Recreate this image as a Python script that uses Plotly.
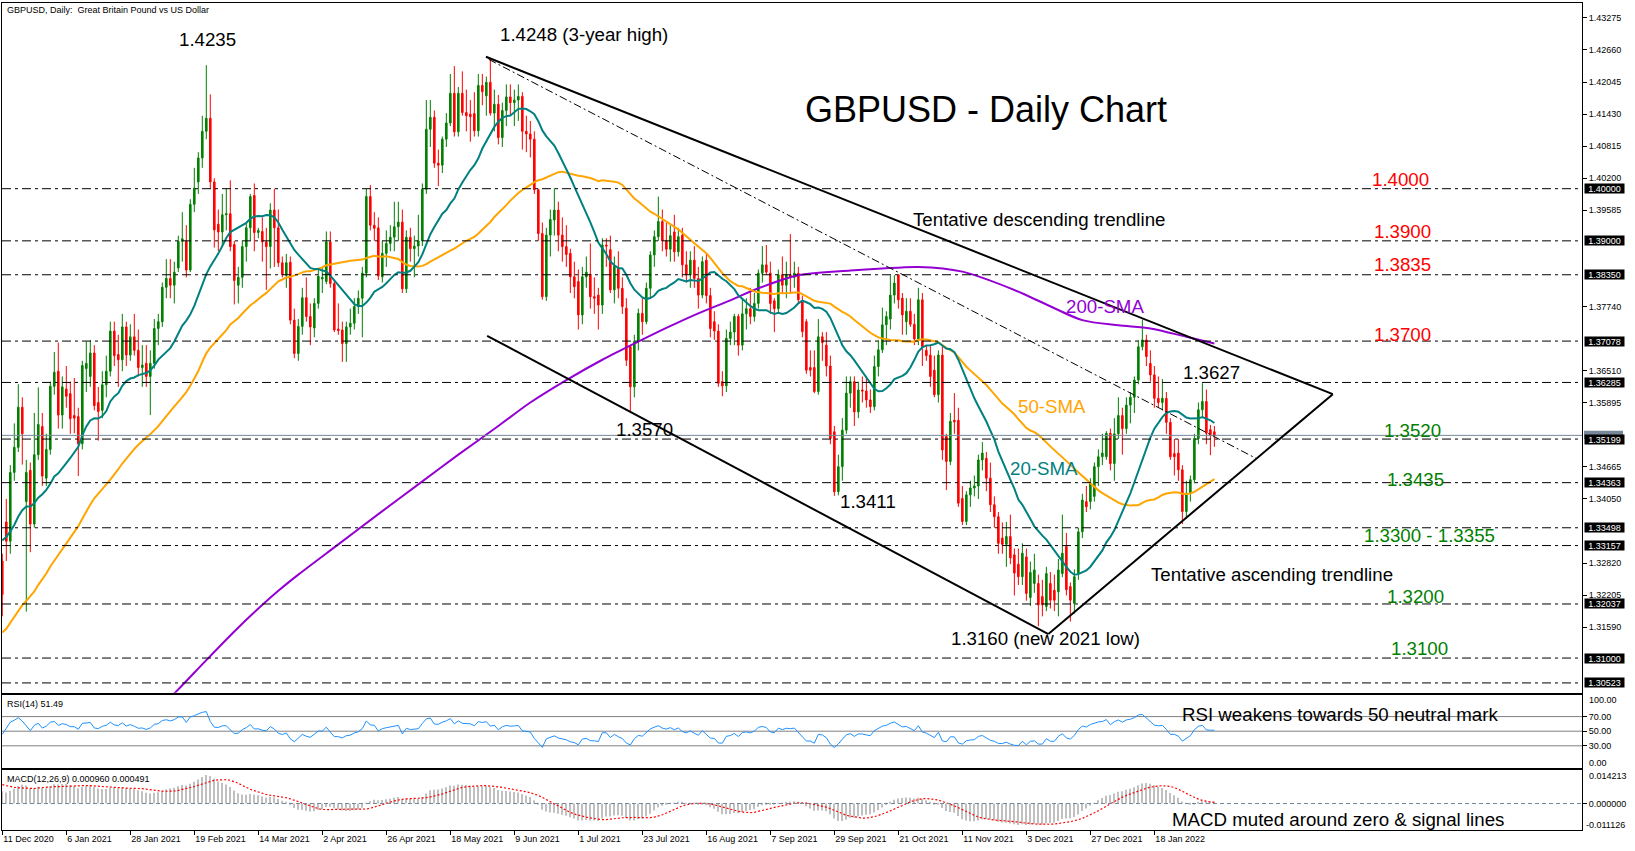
import plotly.graph_objects as go

# ------------------------------------------------------------------ data
tick_bars = [0, 16, 32, 48, 64, 80, 96, 112, 128, 144, 160, 176, 192, 208, 224, 240, 256, 272, 288]
tick_labels = ["11 Dec 2020", "6 Jan 2021", "28 Jan 2021", "19 Feb 2021", "14 Mar 2021", "2 Apr 2021",
               "26 Apr 2021", "18 May 2021", "9 Jun 2021", "1 Jul 2021", "23 Jul 2021", "16 Aug 2021",
               "7 Sep 2021", "29 Sep 2021", "21 Oct 2021", "11 Nov 2021", "3 Dec 2021", "27 Dec 2021",
               "18 Jan 2022"]

# price-scale ticks that are visible (the others sit under the level boxes)
price_ticks = [1.43275, 1.42660, 1.42045, 1.41430, 1.40815, 1.40200, 1.39585, 1.37740,
               1.36510, 1.35895, 1.34665, 1.34050, 1.32820, 1.32205, 1.31590]
level_values = [1.40000, 1.39000, 1.38350, 1.37078, 1.36285, 1.35199, 1.34363, 1.33498, 1.33157,
                1.32037, 1.31000, 1.30523]
bid_price = 1.35270

# closes before the first visible bar (Oct - 10 Dec 2020), used only for the indicators
pre_closes = [1.2875, 1.2945, 1.2965, 1.2875, 1.2935, 1.2945, 1.3045, 1.3050, 1.2925, 1.3020,
              1.2910, 1.2915, 1.2950, 1.2945, 1.3105, 1.3080, 1.3045, 1.3025, 1.3045, 1.2980,
              1.2925, 1.2945, 1.2935, 1.3055, 1.2990, 1.3155, 1.3150, 1.3210, 1.3270, 1.3230,
              1.3120, 1.3190, 1.3190, 1.3245, 1.3255, 1.3260, 1.3285, 1.3315, 1.3355, 1.3365,
              1.3340, 1.3315, 1.3330, 1.3390, 1.3365, 1.3450, 1.3440, 1.3385, 1.3365, 1.3355,
              1.3285]

opens = [
    1.3286, 1.3361, 1.3324, 1.3456, 1.3504, 1.3581, 1.3400, 1.3460, 1.3357, 1.3490,
    1.3544, 1.3445, 1.3500, 1.3621, 1.3650, 1.3566, 1.3616, 1.3607, 1.3565, 1.3563,
    1.3511, 1.3655, 1.3640, 1.3685, 1.3590, 1.3575, 1.3624, 1.3650, 1.3727, 1.3682,
    1.3672, 1.3735, 1.3681, 1.3716, 1.3690, 1.3657, 1.3665, 1.3640, 1.3665, 1.3732,
    1.3745, 1.3811, 1.3828, 1.3815, 1.3848, 1.3899, 1.3899, 1.3844, 1.3970, 1.4013,
    1.4059, 1.4110, 1.4135, 1.4013, 1.3932, 1.3917, 1.3950, 1.3952, 1.3893, 1.3815,
    1.3830, 1.3889, 1.3925, 1.3987, 1.3916, 1.3918, 1.3898, 1.3889, 1.3959, 1.3925,
    1.3858, 1.3834, 1.3859, 1.3748, 1.3684, 1.3736, 1.3791, 1.3755, 1.3733, 1.3780,
    1.3827, 1.3822, 1.3898, 1.3818, 1.3731, 1.3729, 1.3703, 1.3735, 1.3742, 1.3774,
    1.3790, 1.3838, 1.3985, 1.3930, 1.3925, 1.3831, 1.3876, 1.3895, 1.3907, 1.3927,
    1.3936, 1.3808, 1.3907, 1.3885, 1.3890, 1.3900, 1.3999, 1.4114, 1.4137, 1.4049,
    1.4045, 1.4095, 1.4126, 1.4183, 1.4109, 1.4183, 1.4146, 1.4143, 1.4144, 1.4111,
    1.4198, 1.4178, 1.4204, 1.4145, 1.4162, 1.4098, 1.4150, 1.4176, 1.4165, 1.4170,
    1.4177, 1.4110, 1.4105, 1.4095, 1.3998, 1.3914, 1.3793, 1.3911, 1.3940, 1.3959,
    1.3911, 1.3889, 1.3876, 1.3831, 1.3822, 1.3758, 1.3831, 1.3836, 1.3793, 1.3796,
    1.3777, 1.3892, 1.3883, 1.3806, 1.3848, 1.3809, 1.3771, 1.3697, 1.3620, 1.3707,
    1.3761, 1.3745, 1.3809, 1.3873, 1.3908, 1.3937, 1.3900, 1.3884, 1.3917, 1.3879,
    1.3911, 1.3854, 1.3835, 1.3863, 1.3828, 1.3796, 1.3863, 1.3795, 1.3745, 1.3727,
    1.3630, 1.3622, 1.3713, 1.3725, 1.3755, 1.3700, 1.3760, 1.3770, 1.3755, 1.3780,
    1.3838, 1.3854, 1.3838, 1.3785, 1.3770, 1.3835, 1.3815, 1.3835, 1.3830, 1.3838,
    1.3783, 1.3745, 1.3657, 1.3657, 1.3611, 1.3716, 1.3700, 1.3660, 1.3534, 1.3419,
    1.3467, 1.3537, 1.3608, 1.3630, 1.3572, 1.3614, 1.3612, 1.3595, 1.3582, 1.3659,
    1.3691, 1.3739, 1.3750, 1.3796, 1.3835, 1.3790, 1.3745, 1.3765, 1.3740, 1.3712,
    1.3787, 1.3690, 1.3681, 1.3652, 1.3605, 1.3681, 1.3525, 1.3477, 1.3556, 1.3556,
    1.3406, 1.3362, 1.3413, 1.3426, 1.3430, 1.3480, 1.3483, 1.3445, 1.3394, 1.3371,
    1.3330, 1.3318, 1.3333, 1.3298, 1.3280, 1.3256, 1.3294, 1.3216, 1.3243, 1.3243,
    1.3218, 1.3199, 1.3243, 1.3230, 1.3227, 1.3262, 1.3314, 1.3237, 1.3205, 1.3262,
    1.3342, 1.3400, 1.3400, 1.3410, 1.3467, 1.3486, 1.3486, 1.3531, 1.3473, 1.3530,
    1.3565, 1.3540, 1.3585, 1.3600, 1.3633, 1.3697, 1.3710, 1.3665, 1.3643, 1.3598,
    1.3590, 1.3598, 1.3552, 1.3492, 1.3493, 1.3461, 1.3381, 1.3416, 1.3442, 1.3521,
    1.3576, 1.3592, 1.3538, 1.3534]

highs = [
    1.3300, 1.3405, 1.3470, 1.3550, 1.3625, 1.3600, 1.3480, 1.3475, 1.3570, 1.3619,
    1.3570, 1.3530, 1.3630, 1.3687, 1.3705, 1.3640, 1.3660, 1.3630, 1.3637, 1.3580,
    1.3670, 1.3707, 1.3710, 1.3700, 1.3620, 1.3650, 1.3680, 1.3745, 1.3745, 1.3720,
    1.3760, 1.3745, 1.3740, 1.3760, 1.3730, 1.3700, 1.3700, 1.3690, 1.3750, 1.3760,
    1.3820, 1.3865, 1.3865, 1.3860, 1.3910, 1.3955, 1.3930, 1.3980, 1.4040, 1.4070,
    1.4140, 1.4237, 1.4181, 1.4020, 1.3960, 1.3990, 1.4001, 1.4016, 1.3900, 1.3850,
    1.3900, 1.3935, 1.3990, 1.4010, 1.3925, 1.3945, 1.3925, 1.3972, 1.4000, 1.3960,
    1.3870, 1.3875, 1.3870, 1.3770, 1.3750, 1.3810, 1.3830, 1.3780, 1.3790, 1.3845,
    1.3850, 1.3918, 1.3918, 1.3825, 1.3780, 1.3745, 1.3745, 1.3770, 1.3790, 1.3805,
    1.3850, 1.4000, 1.4007, 1.3955, 1.3945, 1.3900, 1.3920, 1.3930, 1.3975, 1.3975,
    1.3960, 1.3920, 1.3925, 1.3910, 1.3950, 1.4010, 1.4170, 1.4170, 1.4150, 1.4075,
    1.4100, 1.4145, 1.4220, 1.4235, 1.4195, 1.4225, 1.4190, 1.4170, 1.4185, 1.4220,
    1.4220, 1.4215, 1.4249, 1.4190, 1.4180, 1.4165, 1.4200, 1.4200, 1.4190, 1.4200,
    1.4185, 1.4140, 1.4130, 1.4110, 1.4000, 1.3935, 1.3925, 1.3960, 1.4001, 1.3975,
    1.3945, 1.3930, 1.3885, 1.3860, 1.3845, 1.3850, 1.3870, 1.3895, 1.3830, 1.3810,
    1.3905, 1.3905, 1.3910, 1.3870, 1.3880, 1.3830, 1.3790, 1.3700, 1.3720, 1.3770,
    1.3790, 1.3820, 1.3880, 1.3920, 1.3985, 1.3960, 1.3935, 1.3930, 1.3950, 1.3925,
    1.3925, 1.3880, 1.3880, 1.3890, 1.3850, 1.3870, 1.3875, 1.3810, 1.3765, 1.3740,
    1.3650, 1.3730, 1.3745, 1.3760, 1.3760, 1.3790, 1.3790, 1.3810, 1.3800, 1.3845,
    1.3890, 1.3892, 1.3860, 1.3790, 1.3845, 1.3870, 1.3860, 1.3913, 1.3860, 1.3850,
    1.3795, 1.3750, 1.3690, 1.3690, 1.3750, 1.3725, 1.3725, 1.3680, 1.3545, 1.3490,
    1.3560, 1.3640, 1.3640, 1.3640, 1.3630, 1.3640, 1.3640, 1.3615, 1.3680, 1.3710,
    1.3772, 1.3765, 1.3834, 1.3834, 1.3835, 1.3800, 1.3790, 1.3790, 1.3760, 1.3810,
    1.3800, 1.3700, 1.3700, 1.3680, 1.3690, 1.3700, 1.3530, 1.3570, 1.3608, 1.3580,
    1.3430, 1.3420, 1.3440, 1.3450, 1.3490, 1.3514, 1.3495, 1.3475, 1.3410, 1.3380,
    1.3360, 1.3361, 1.3375, 1.3310, 1.3310, 1.3320, 1.3310, 1.3285, 1.3300, 1.3260,
    1.3250, 1.3275, 1.3265, 1.3260, 1.3290, 1.3375, 1.3340, 1.3245, 1.3270, 1.3350,
    1.3415, 1.3430, 1.3445, 1.3475, 1.3500, 1.3530, 1.3535, 1.3540, 1.3560, 1.3600,
    1.3580, 1.3600, 1.3610, 1.3640, 1.3710, 1.3749, 1.3720, 1.3690, 1.3660, 1.3640,
    1.3635, 1.3610, 1.3560, 1.3520, 1.3520, 1.3470, 1.3440, 1.3450, 1.3530, 1.3590,
    1.3627, 1.3615, 1.3547, 1.3545]

lows = [
    1.3180, 1.3286, 1.3300, 1.3440, 1.3495, 1.3471, 1.3189, 1.3303, 1.3350, 1.3480,
    1.3430, 1.3430, 1.3490, 1.3605, 1.3540, 1.3540, 1.3580, 1.3530, 1.3531, 1.3449,
    1.3500, 1.3610, 1.3620, 1.3575, 1.3517, 1.3560, 1.3600, 1.3640, 1.3660, 1.3620,
    1.3650, 1.3660, 1.3670, 1.3680, 1.3640, 1.3620, 1.3620, 1.3566, 1.3655, 1.3700,
    1.3735, 1.3790, 1.3790, 1.3780, 1.3840, 1.3860, 1.3830, 1.3840, 1.3955, 1.3990,
    1.4040, 1.4095, 1.4000, 1.3887, 1.3880, 1.3890, 1.3920, 1.3880, 1.3778, 1.3780,
    1.3810, 1.3860, 1.3900, 1.3880, 1.3905, 1.3860, 1.3806, 1.3847, 1.3850, 1.3850,
    1.3830, 1.3810, 1.3740, 1.3675, 1.3670, 1.3720, 1.3745, 1.3700, 1.3715, 1.3770,
    1.3800, 1.3817, 1.3810, 1.3725, 1.3720, 1.3668, 1.3668, 1.3720, 1.3730, 1.3760,
    1.3715, 1.3830, 1.3920, 1.3900, 1.3825, 1.3820, 1.3850, 1.3880, 1.3880, 1.3900,
    1.3800, 1.3800, 1.3860, 1.3830, 1.3870, 1.3890, 1.3990, 1.4080, 1.4040, 1.4005,
    1.4030, 1.4080, 1.4120, 1.4100, 1.4100, 1.4140, 1.4110, 1.4090, 1.4100, 1.4100,
    1.4160, 1.4140, 1.4140, 1.4110, 1.4085, 1.4080, 1.4120, 1.4140, 1.4120, 1.4130,
    1.4075, 1.4070, 1.4060, 1.3990, 1.3900, 1.3787, 1.3785, 1.3870, 1.3910, 1.3880,
    1.3860, 1.3850, 1.3800, 1.3790, 1.3730, 1.3740, 1.3810, 1.3770, 1.3760, 1.3730,
    1.3760, 1.3850, 1.3800, 1.3780, 1.3790, 1.3760, 1.3660, 1.3572, 1.3600, 1.3690,
    1.3720, 1.3740, 1.3790, 1.3850, 1.3900, 1.3880, 1.3870, 1.3860, 1.3860, 1.3870,
    1.3830, 1.3820, 1.3810, 1.3810, 1.3770, 1.3790, 1.3780, 1.3715, 1.3710, 1.3620,
    1.3602, 1.3610, 1.3700, 1.3700, 1.3680, 1.3690, 1.3730, 1.3740, 1.3745, 1.3770,
    1.3820, 1.3835, 1.3760, 1.3725, 1.3760, 1.3800, 1.3790, 1.3800, 1.3810, 1.3780,
    1.3715, 1.3645, 1.3640, 1.3608, 1.3605, 1.3670, 1.3640, 1.3510, 1.3411, 1.3412,
    1.3440, 1.3530, 1.3580, 1.3545, 1.3560, 1.3590, 1.3580, 1.3570, 1.3575, 1.3640,
    1.3685, 1.3700, 1.3730, 1.3780, 1.3770, 1.3720, 1.3720, 1.3735, 1.3700, 1.3700,
    1.3660, 1.3670, 1.3620, 1.3600, 1.3590, 1.3480, 1.3422, 1.3470, 1.3530, 1.3390,
    1.3355, 1.3355, 1.3390, 1.3410, 1.3405, 1.3460, 1.3420, 1.3380, 1.3350, 1.3300,
    1.3300, 1.3275, 1.3280, 1.3220, 1.3240, 1.3240, 1.3210, 1.3200, 1.3225, 1.3161,
    1.3180, 1.3190, 1.3195, 1.3190, 1.3180, 1.3255, 1.3220, 1.3170, 1.3185, 1.3250,
    1.3330, 1.3380, 1.3385, 1.3400, 1.3430, 1.3470, 1.3480, 1.3460, 1.3440, 1.3520,
    1.3490, 1.3530, 1.3550, 1.3570, 1.3625, 1.3690, 1.3660, 1.3630, 1.3580, 1.3580,
    1.3575, 1.3530, 1.3480, 1.3450, 1.3440, 1.3357, 1.3370, 1.3400, 1.3435, 1.3510,
    1.3560, 1.3510, 1.3489, 1.3505]

closes = [
    1.3222, 1.3324, 1.3456, 1.3504, 1.3581, 1.3530, 1.3456, 1.3357, 1.3490, 1.3548,
    1.3449, 1.3500, 1.3621, 1.3648, 1.3566, 1.3620, 1.3602, 1.3559, 1.3560, 1.3511,
    1.3661, 1.3665, 1.3685, 1.3584, 1.3573, 1.3624, 1.3650, 1.3727, 1.3680, 1.3672,
    1.3735, 1.3681, 1.3716, 1.3690, 1.3657, 1.3662, 1.3640, 1.3665, 1.3732, 1.3745,
    1.3811, 1.3828, 1.3815, 1.3840, 1.3899, 1.3904, 1.3844, 1.3970, 1.4001, 1.4059,
    1.4110, 1.4135, 1.4013, 1.3921, 1.3917, 1.3950, 1.3952, 1.3889, 1.3824, 1.3830,
    1.3889, 1.3925, 1.3985, 1.3916, 1.3920, 1.3898, 1.3889, 1.3959, 1.3925, 1.3858,
    1.3835, 1.3858, 1.3748, 1.3684, 1.3736, 1.3791, 1.3755, 1.3735, 1.3780, 1.3832,
    1.3830, 1.3898, 1.3818, 1.3729, 1.3728, 1.3703, 1.3735, 1.3742, 1.3774, 1.3790,
    1.3838, 1.3985, 1.3930, 1.3924, 1.3833, 1.3876, 1.3895, 1.3907, 1.3927, 1.3936,
    1.3808, 1.3907, 1.3885, 1.3890, 1.3900, 1.3999, 1.4114, 1.4137, 1.4049, 1.4045,
    1.4095, 1.4126, 1.4183, 1.4109, 1.4183, 1.4146, 1.4140, 1.4138, 1.4111, 1.4198,
    1.4186, 1.4204, 1.4145, 1.4162, 1.4098, 1.4150, 1.4176, 1.4165, 1.4170, 1.4177,
    1.4110, 1.4105, 1.4095, 1.3998, 1.3914, 1.3793, 1.3911, 1.3941, 1.3959, 1.3911,
    1.3889, 1.3874, 1.3831, 1.3812, 1.3758, 1.3831, 1.3840, 1.3793, 1.3790, 1.3777,
    1.3892, 1.3890, 1.3806, 1.3851, 1.3809, 1.3774, 1.3671, 1.3620, 1.3707, 1.3761,
    1.3745, 1.3809, 1.3873, 1.3908, 1.3937, 1.3900, 1.3884, 1.3910, 1.3879, 1.3908,
    1.3854, 1.3835, 1.3863, 1.3828, 1.3796, 1.3860, 1.3795, 1.3732, 1.3727, 1.3627,
    1.3622, 1.3713, 1.3725, 1.3755, 1.3700, 1.3760, 1.3770, 1.3755, 1.3780, 1.3838,
    1.3854, 1.3840, 1.3780, 1.3770, 1.3835, 1.3815, 1.3835, 1.3830, 1.3838, 1.3787,
    1.3726, 1.3652, 1.3652, 1.3611, 1.3716, 1.3705, 1.3660, 1.3521, 1.3419, 1.3467,
    1.3537, 1.3608, 1.3630, 1.3572, 1.3614, 1.3612, 1.3595, 1.3582, 1.3659, 1.3691,
    1.3739, 1.3755, 1.3796, 1.3819, 1.3787, 1.3758, 1.3765, 1.3740, 1.3712, 1.3787,
    1.3697, 1.3680, 1.3640, 1.3605, 1.3681, 1.3499, 1.3477, 1.3554, 1.3553, 1.3397,
    1.3362, 1.3413, 1.3426, 1.3430, 1.3480, 1.3493, 1.3445, 1.3394, 1.3371, 1.3320,
    1.3318, 1.3333, 1.3292, 1.3263, 1.3256, 1.3301, 1.3224, 1.3264, 1.3269, 1.3202,
    1.3202, 1.3262, 1.3211, 1.3211, 1.3269, 1.3301, 1.3231, 1.3211, 1.3256, 1.3342,
    1.3403, 1.3390, 1.3435, 1.3467, 1.3486, 1.3493, 1.3531, 1.3473, 1.3530, 1.3565,
    1.3540, 1.3585, 1.3600, 1.3633, 1.3697, 1.3710, 1.3678, 1.3643, 1.3598, 1.3590,
    1.3598, 1.3552, 1.3486, 1.3486, 1.3461, 1.3381, 1.3416, 1.3442, 1.3521, 1.3576,
    1.3592, 1.3531, 1.3528, 1.3527]

# 200-SMA (bar index, value)
sma200_bars = [40, 44, 51, 58, 64, 69, 74, 84, 94, 104, 114, 124, 132, 141, 150, 158, 166, 174, 182,
               189, 199, 212, 220, 229, 240, 252, 261, 270, 279, 287, 296, 303]
sma200_vals = [1.3010, 1.3040, 1.3096, 1.3151, 1.3195, 1.3229, 1.3260, 1.3318, 1.3376, 1.3433,
               1.3490, 1.3545, 1.3590, 1.3633, 1.3672, 1.3703, 1.3733, 1.3761, 1.3786, 1.3809,
               1.3834, 1.3843, 1.3847, 1.3850, 1.3841, 1.3809, 1.3778, 1.3748, 1.3738, 1.3732,
               1.3716, 1.3703]

# hand-drawn trendlines (bar index, price)
upper_trend = [(120.9, 1.4253), (332.6, 1.3606)]
lower_trend = [(121.2, 1.3718), (261.5, 1.3146)]
ascending_trend = [(261.5, 1.3146), (332.6, 1.3606)]
mid_dashed = [(121.6, 1.4248), (313.4, 1.3483)]

print(len(opens), len(highs), len(lows), len(closes))

# ------------------------------------------------------------------ indicators
def sma(vals, n):
    out, s = [], 0.0
    for i, v in enumerate(vals):
        s += v
        if i >= n:
            s -= vals[i - n]
        out.append(s / n if i >= n - 1 else None)
    return out


def ema(vals, n):
    a = 2.0 / (n + 1)
    out = [vals[0]]
    for v in vals[1:]:
        out.append(out[-1] + a * (v - out[-1]))
    return out


def rsi(vals, n=14):
    out = [None] * len(vals)
    g = [0.0] + [max(vals[i] - vals[i - 1], 0) for i in range(1, len(vals))]
    l = [0.0] + [max(vals[i - 1] - vals[i], 0) for i in range(1, len(vals))]
    ag = sum(g[1:n + 1]) / n
    al = sum(l[1:n + 1]) / n
    out[n] = 100 - 100 / (1 + ag / al) if al > 0 else 100
    for i in range(n + 1, len(vals)):
        ag = (ag * (n - 1) + g[i]) / n
        al = (al * (n - 1) + l[i]) / n
        out[i] = 100 - 100 / (1 + ag / al) if al > 0 else 100
    return out


allc = pre_closes + closes
npre = len(pre_closes)
sma20 = sma(allc, 20)[npre:]
sma50 = sma(allc, 50)[npre:]
rsi14 = rsi(allc, 14)[npre:]
e12, e26 = ema(allc, 12), ema(allc, 26)
macd_all = [a - b for a, b in zip(e12, e26)]
signal = sma(macd_all, 9)[npre:]
macd = macd_all[npre:]

bars = list(range(len(closes)))

# ------------------------------------------------------------------ figure
ARIAL = "Liberation Sans, Arial, sans-serif"
SMALL = dict(family=ARIAL, size=9, color="black")
XR = [-0.075, 394.9]
P_RANGE = [1.303356, 1.435609]
P_DOM = [0.16602, 1.0]


def price_to_paper(p):
    return P_DOM[0] + (p - P_RANGE[0]) / (P_RANGE[1] - P_RANGE[0]) * (P_DOM[1] - P_DOM[0])


fig = go.Figure()
fig.add_trace(go.Candlestick(
    x=bars, open=opens, high=highs, low=lows, close=closes, xaxis="x", yaxis="y",
    increasing=dict(line=dict(color="#008000", width=1), fillcolor="#008000"),
    decreasing=dict(line=dict(color="#FF0000", width=1), fillcolor="#FF0000"),
    whiskerwidth=0, showlegend=False, hoverinfo="skip"))
fig.add_trace(go.Scatter(x=sma200_bars, y=sma200_vals, mode="lines", xaxis="x", yaxis="y",
                         line=dict(color="#9400D3", width=2, shape="spline", smoothing=0.8),
                         showlegend=False, hoverinfo="skip"))
fig.add_trace(go.Scatter(x=bars, y=sma50, mode="lines", xaxis="x", yaxis="y",
                         line=dict(color="#FFA500", width=2), showlegend=False, hoverinfo="skip"))
fig.add_trace(go.Scatter(x=bars, y=sma20, mode="lines", xaxis="x", yaxis="y",
                         line=dict(color="#008080", width=2), showlegend=False, hoverinfo="skip"))

# RSI
fig.add_trace(go.Scatter(x=bars, y=rsi14, mode="lines", xaxis="x2", yaxis="y2",
                         line=dict(color="#1E90FF", width=1), showlegend=False, hoverinfo="skip"))
# MACD
fig.add_trace(go.Bar(x=bars, y=macd, xaxis="x3", yaxis="y3", width=0.28,
                     marker=dict(color="#C0C0C0", line=dict(width=0)), showlegend=False,
                     hoverinfo="skip"))
fig.add_trace(go.Scatter(x=bars, y=signal, mode="lines", xaxis="x3", yaxis="y3",
                         line=dict(color="#FF0000", width=1.2, dash="2px,2px"),
                         showlegend=False, hoverinfo="skip"))

shapes = []
for v in level_values:
    shapes.append(dict(type="line", xref="paper", x0=0, x1=1, yref="y", y0=v, y1=v,
                       line=dict(color="black", width=1, dash="9px,4px,3px,4px"), layer="above"))
shapes.append(dict(type="line", xref="paper", x0=0, x1=1, yref="y", y0=bid_price, y1=bid_price,
                   line=dict(color="#778899", width=1), layer="above"))
for seg, w, d in [(upper_trend, 2, "solid"), (lower_trend, 2, "solid"),
                  (ascending_trend, 2, "solid"), (mid_dashed, 1, "8px,3px,2px,3px")]:
    (xa, ya), (xb, yb) = seg
    shapes.append(dict(type="line", xref="x", yref="y", x0=xa, y0=ya, x1=xb, y1=yb,
                       line=dict(color="black", width=w, dash=d), layer="above"))
for v in [70, 50, 30]:
    shapes.append(dict(type="line", xref="paper", x0=0, x1=1, yref="y2", y0=v, y1=v,
                       line=dict(color="#808080", width=1), layer="below"))
shapes.append(dict(type="line", xref="paper", x0=0, x1=1, yref="y3", y0=0, y1=0,
                   line=dict(color="#778899", width=1, dash="4px,3px"), layer="above"))
# bid-price box, mostly hidden behind the 1.35199 level box
shapes.append(dict(type="rect", xref="paper", yref="paper", x0=1.00127, x1=1.02595,
                   y0=price_to_paper(1.35199), y1=price_to_paper(1.35360),
                   fillcolor="#778899", line=dict(width=0), layer="above"))

ann = []


def txt(text, x, y, color="black", size=18.7, xref="x", yref="y", **kw):
    d = dict(text=text, x=x, y=y, xref=xref, yref=yref, showarrow=False,
             xanchor="center", yanchor="middle",
             font=dict(family=ARIAL, size=size, color=color))
    d.update(kw)
    ann.append(d)


RED, GREEN, TEAL, ORANGE, PURPLE = "#FF0000", "#008000", "#008080", "#FFA500", "#9400D3"
txt("1.4235", 51.4, 1.42868)
txt("1.4248 (3-year high)", 145.4, 1.42960)
txt("GBPUSD - Daily Chart", 246.0, 1.41519, size=36)
txt("Tentative descending trendline", 259.2, 1.39400)
txt("1.4000", 349.6, 1.40180, RED)
txt("1.3900", 350.0, 1.39179, RED)
txt("1.3835", 350.0, 1.38540, RED)
txt("1.3700", 350.0, 1.37199, RED)
txt("200-SMA", 275.7, 1.37740, PURPLE)
txt("1.3627", 302.3, 1.36480)
txt("50-SMA", 262.4, 1.35818, ORANGE)
txt("1.3570", 160.5, 1.35379)
txt("1.3520", 352.6, 1.35360, GREEN)
txt("20-SMA", 260.4, 1.34638, TEAL)
txt("1.3411", 216.3, 1.34000)
txt("1.3435", 353.4, 1.34420, GREEN)
txt("1.3300 - 1.3355", 356.8, 1.33359, GREEN)
txt("Tentative ascending trendline", 317.4, 1.32599)
txt("1.3200", 353.4, 1.32179, GREEN)
txt("1.3160 (new 2021 low)", 260.9, 1.31377)
txt("1.3100", 354.4, 1.31178, GREEN)
txt("RSI weakens towards 50 neutral mark", 334.5, 72.2, xref="x2", yref="y2")
txt("MACD muted around zero & signal lines", 333.8, -0.00692, xref="x3", yref="y3")

# small header texts
txt("GBPUSD, Daily:\u00a0 Great Britain Pound vs US Dollar", 0.0022, 0.99214, size=9,
    xref="paper", yref="paper", xanchor="left")
txt("RSI(14) 51.49", 0.0018, 0.15272, size=9, xref="paper", yref="paper", xanchor="left")
txt("MACD(12,26,9) 0.000960 0.000491", 0.0018, 0.06131, size=9, xref="paper", yref="paper",
    xanchor="left")

# right-hand level boxes
LX = 1.00127
for v in level_values:
    ann.append(dict(text=f"{v:.5f}", x=LX, y=v, xref="paper", yref="y", xanchor="left",
                    yanchor="middle", showarrow=False, bgcolor="black", borderpad=0, height=9,
                    width=39, font=dict(family=ARIAL, size=9, color="white")))
# end labels of the indicator scales
for text, y, yr in [("100.00", 92.7, "y2"), ("0.00", 6.8, "y2"),
                    ("0.014213", 0.01169, "y3"), ("-0.011126", -0.00903, "y3")]:
    ann.append(dict(text=text, x=1.0010 if text.startswith("-") else 1.0030, y=y, xref="paper",
                    yref=yr, xanchor="left", yanchor="middle", showarrow=False, font=SMALL))

axis_common = dict(showline=True, mirror=True, linecolor="black", linewidth=1, showgrid=False,
                   zeroline=False)
fig.update_layout(
    width=1635, height=851,
    margin=dict(l=2, r=53, t=3, b=21),
    paper_bgcolor="white", plot_bgcolor="white",
    showlegend=False, hovermode=False, boxgap=0.45,
    xaxis=dict(domain=[0, 1], anchor="y", range=XR, showticklabels=False, ticks="",
               rangeslider=dict(visible=False), **axis_common),
    yaxis=dict(domain=P_DOM, anchor="x", side="right", range=P_RANGE,
               tickvals=price_ticks, ticktext=[f"{v:.5f}" for v in price_ticks],
               ticks="outside", ticklen=4, tickcolor="black", tickfont=SMALL, **axis_common),
    xaxis2=dict(domain=[0, 1], anchor="y2", range=XR, showticklabels=False, ticks="",
                **axis_common),
    yaxis2=dict(domain=[0.07533, 0.16360], anchor="x2", side="right", range=[0, 100],
                tickvals=[70, 50, 30], ticktext=["70.00", "50.00", "30.00"], ticks="outside",
                ticklen=4, tickcolor="black", tickfont=SMALL, **axis_common),
    xaxis3=dict(domain=[0, 1], anchor="y3", range=XR, tickvals=tick_bars, ticktext=tick_labels,
                ticks="outside", ticklen=4, tickcolor="black", tickfont=SMALL,
                ticklabelposition="outside right", **axis_common),
    yaxis3=dict(domain=[0, 0.07291], anchor="x3", side="right", range=[-0.011126, 0.014213],
                tickvals=[0], ticktext=["0.000000"], ticks="outside", ticklen=4,
                tickcolor="black", tickfont=SMALL, **axis_common),
    shapes=shapes, annotations=ann,
)

fig.write_html("out.html", config={"displayModeBar": False},
               post_script="document.body.style.margin='0px';document.body.style.overflow='hidden';")
